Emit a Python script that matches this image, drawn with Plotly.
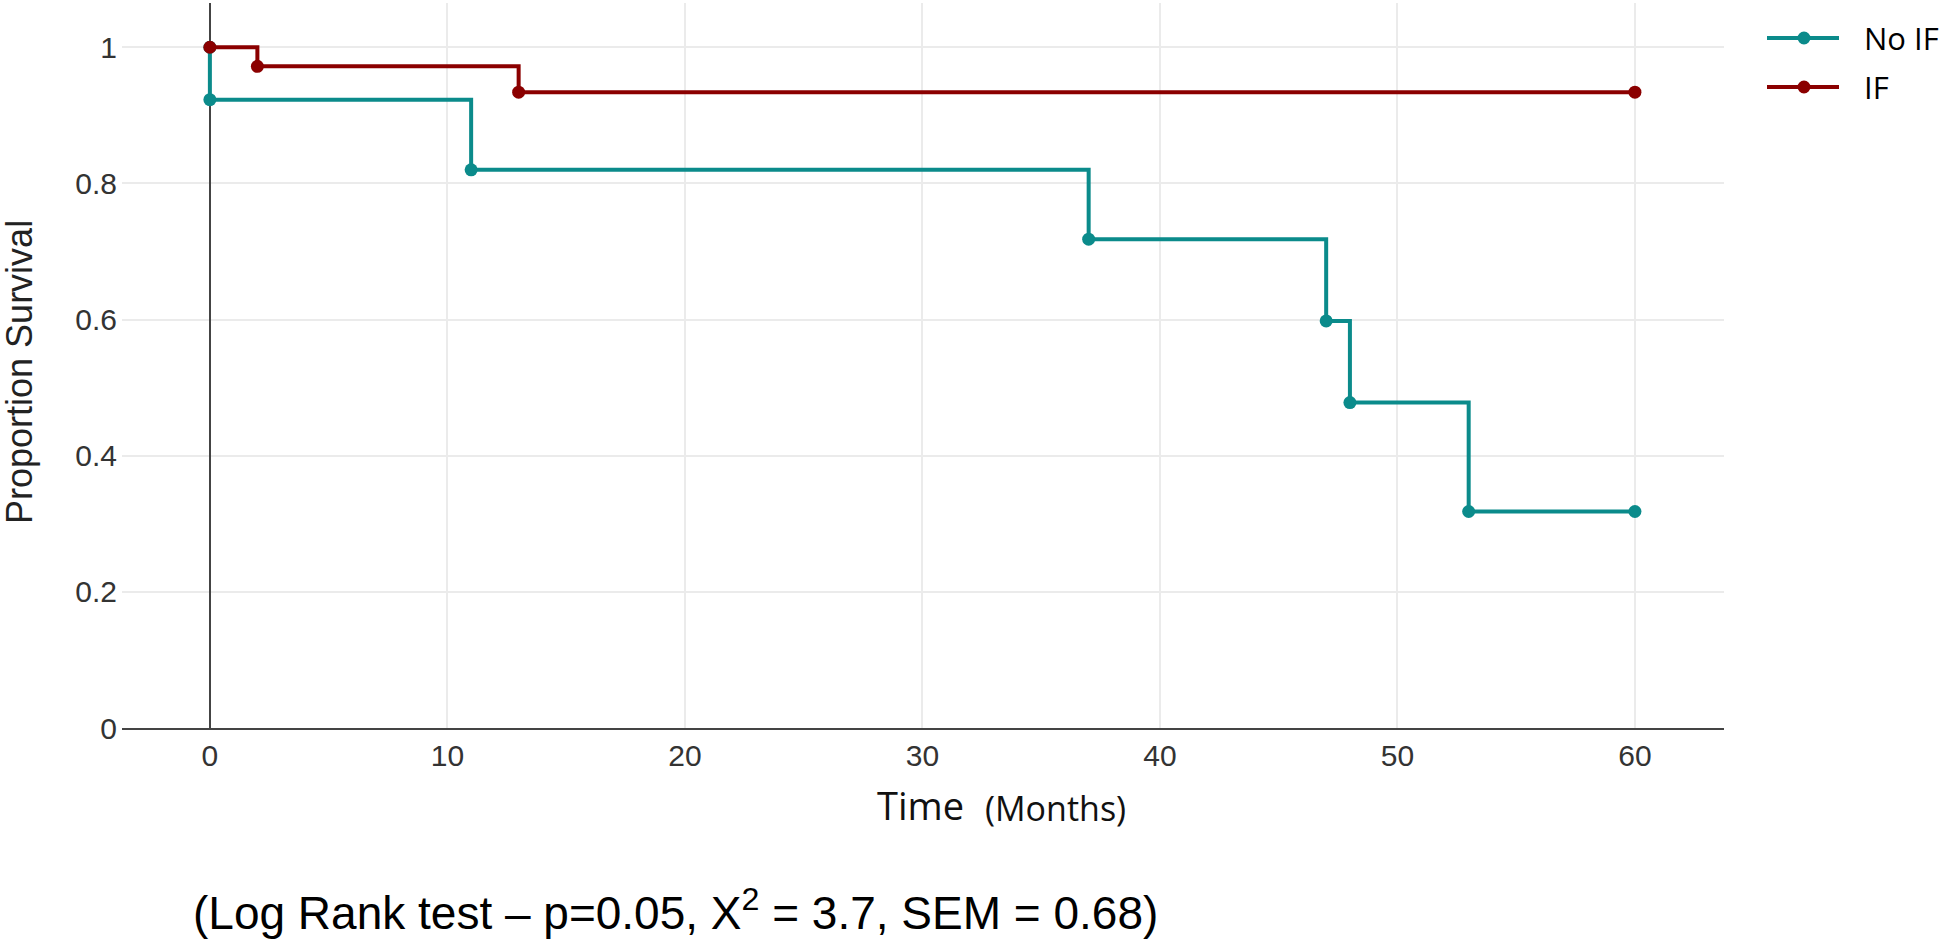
import plotly.graph_objects as go

# Kaplan-Meier step data
no_if_time = [0, 0, 11, 37, 47, 48, 53, 60]
no_if_surv = [1.0, 0.923, 0.820, 0.718, 0.598, 0.478, 0.318, 0.318]
if_time = [0, 2, 13, 60]
if_surv = [1.0, 0.972, 0.934, 0.934]

series_names = ["No IF", "IF"]

x_ticks = [0, 10, 20, 30, 40, 50, 60]
y_ticks = [0, 0.2, 0.4, 0.6, 0.8, 1]
y_tick_labels = ["0", "0.2", "0.4", "0.6", "0.8", "1"]

TEAL = "#0B8B8B"
RED = "#8B0000"

W, H = 1944, 939
L, R, T, B = 122, 220, 3, 211
PW = W - L - R
PH = H - T - B


def px(x):
    return (x - L) / PW


def py(y):
    return (H - B - y) / PH


fig = go.Figure()
fig.add_trace(go.Scatter(
    x=no_if_time, y=no_if_surv, name=series_names[0], mode="lines+markers",
    line=dict(color=TEAL, width=4, shape="hv"),
    marker=dict(color=TEAL, size=13),
    showlegend=False,
))
fig.add_trace(go.Scatter(
    x=if_time, y=if_surv, name=series_names[1], mode="lines+markers",
    line=dict(color=RED, width=4, shape="hv"),
    marker=dict(color=RED, size=13),
    showlegend=False,
))

# custom legend (line + dot + label), placed like the reference
shapes = []
annotations = []
for name, color, yc in [(series_names[0], TEAL, 38), (series_names[1], RED, 87)]:
    shapes.append(dict(type="line", xref="paper", yref="paper",
                       x0=px(1767), x1=px(1839), y0=py(yc), y1=py(yc),
                       line=dict(color=color, width=4)))
    shapes.append(dict(type="circle", xref="paper", yref="paper",
                       x0=px(1797.5), x1=px(1810.5), y0=py(yc + 6.5), y1=py(yc - 6.5),
                       fillcolor=color, line=dict(color=color, width=0)))
    annotations.append(dict(text=name, xref="paper", yref="paper",
                            x=px(1862), y=py(yc), xanchor="left", yanchor="middle",
                            showarrow=False,
                            font=dict(family="Open Sans, sans-serif", size=31, color="#000000")))

annotations += [
    dict(text="Proportion Survival", xref="paper", yref="paper",
         x=px(19), y=py(372), xanchor="center", yanchor="middle",
         textangle=-90, showarrow=False,
         font=dict(family="Liberation Sans, Arial, sans-serif", size=36, color="#222222")),
    dict(text="Time", xref="paper", yref="paper",
         x=px(966), y=py(805), xanchor="right", yanchor="middle",
         showarrow=False,
         font=dict(family="Open Sans, sans-serif", size=38, color="#111111")),
    dict(text="(Months)", xref="paper", yref="paper",
         x=px(983), y=py(808), xanchor="left", yanchor="middle",
         showarrow=False,
         font=dict(family="Open Sans, sans-serif", size=34, color="#111111")),
    dict(text="(Log Rank test \u2013 p=0.05, X<sup>2</sup> = 3.7, SEM = 0.68)",
         xref="paper", yref="paper",
         x=px(675), y=py(910), xanchor="center", yanchor="middle",
         showarrow=False,
         font=dict(family="Liberation Sans, Arial, sans-serif", size=46, color="#000000")),
]

fig.update_layout(
    width=W, height=H,
    margin=dict(l=L, r=R, t=T, b=B, pad=0),
    paper_bgcolor="white", plot_bgcolor="white",
    font=dict(family="Liberation Sans, Arial, sans-serif", color="#444444"),
    showlegend=False,
    xaxis=dict(
        range=[-3.7, 63.75], tickmode="array", tickvals=x_ticks,
        showgrid=True, gridcolor="#EBEBEB", gridwidth=1.5,
        zeroline=True, zerolinecolor="#444444", zerolinewidth=2,
        showline=True, linecolor="#444444", linewidth=2,
        ticks="", tickfont=dict(size=30, color="#333333"),
    ),
    yaxis=dict(
        range=[0, 1.065], tickmode="array", tickvals=y_ticks, ticktext=y_tick_labels,
        showgrid=True, gridcolor="#EBEBEB", gridwidth=1.5,
        zeroline=False, showline=False,
        ticks="", ticklabelstandoff=4,
        tickfont=dict(size=30, color="#333333"),
    ),
    shapes=shapes,
    annotations=annotations,
)

fig.write_html("out.html",
               config={"displayModeBar": False},
               post_script="document.body.style.margin='0px';document.body.style.overflow='hidden';")
